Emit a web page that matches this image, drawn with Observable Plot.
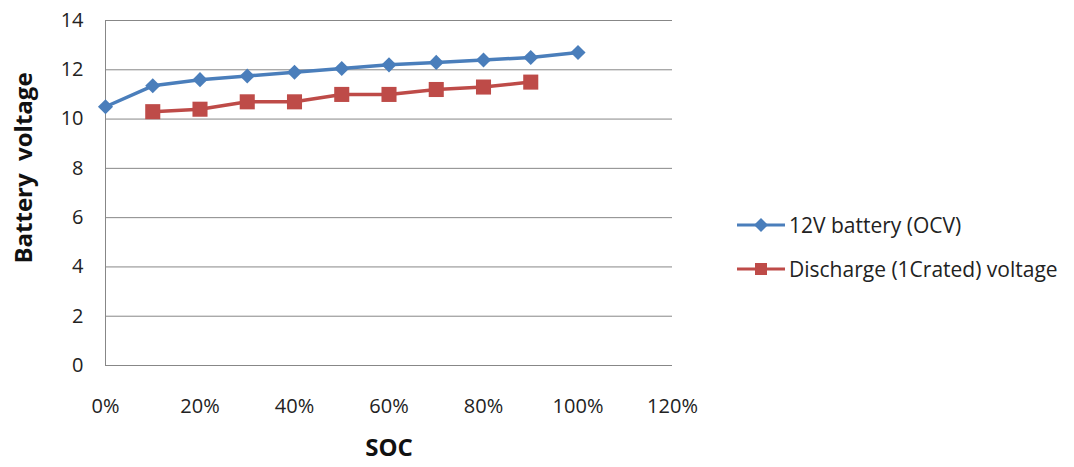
<!DOCTYPE html>
<html>
<head>
<meta charset="utf-8">
<script src="https://cdn.jsdelivr.net/npm/d3@7"></script>
<script src="https://cdn.jsdelivr.net/npm/@observablehq/plot@0.6"></script>
<style>
  body { margin: 0; background: #fff; }
  #chart { position: relative; width: 1074px; height: 467px; font-family: "Open Sans", sans-serif; }
  #legend { position: absolute; left: 736px; top: 210px; font-size: 21px; color: #222; }
  #legend .item { display: flex; align-items: center; height: 30px; margin-bottom: 14px; white-space: nowrap; }
  #legend svg { margin-right: 3px; }
</style>
</head>
<body>
<div id="chart"></div>
<script>
// State of charge (fraction) and measured voltages
const socOcv = [0, 0.1, 0.2, 0.3, 0.4, 0.5, 0.6, 0.7, 0.8, 0.9, 1.0];
const ocvVolts = [10.5, 11.35, 11.6, 11.75, 11.9, 12.05, 12.2, 12.3, 12.4, 12.5, 12.7];
const socDischarge = [0.1, 0.2, 0.3, 0.4, 0.5, 0.6, 0.7, 0.8, 0.9];
const dischargeVolts = [10.3, 10.4, 10.7, 10.7, 11.0, 11.0, 11.2, 11.3, 11.5];

const seriesNames = ["12V battery (OCV)", "Discharge (1Crated) voltage"];
const seriesColors = ["#4a7ebb", "#be4b48"];
const xTicks = [0, 0.2, 0.4, 0.6, 0.8, 1.0, 1.2];
const yTicks = [0, 2, 4, 6, 8, 10, 12, 14];
const yTitle = "Battery\u00a0 voltage";
const xTitle = "SOC";

const ocv = socOcv.map((s, i) => ({soc: s, v: ocvVolts[i]}));
const discharge = socDischarge.map((s, i) => ({soc: s, v: dischargeVolts[i]}));

const grid = "#878787";

const plot = Plot.plot({
  width: 1074,
  height: 467,
  marginLeft: 105,
  marginRight: 402,
  marginTop: 20,
  marginBottom: 102,
  style: {fontFamily: "'Open Sans', sans-serif", color: "#222", background: "#fff"},
  x: {domain: [0, 1.2]},
  y: {domain: [0, 14]},
  marks: [
    Plot.gridY(yTicks, {stroke: grid, strokeOpacity: 1, strokeWidth: 1}),
    Plot.ruleX([0], {stroke: grid, strokeWidth: 1}),
    Plot.axisY(yTicks, {tickSize: 0, tickPadding: 22, fontSize: 20, label: null}),
    Plot.axisX(xTicks, {tickSize: 0, tickPadding: 33, fontSize: 20, label: null, tickFormat: d3.format(".0%")}),
    Plot.text([yTitle], {frameAnchor: "left", dx: -81, dy: -25, rotate: -90, textAnchor: "middle", fontSize: 24, fontWeight: "bold", fill: "#111"}),
    Plot.text([xTitle], {frameAnchor: "bottom", dy: 90, fontSize: 24, fontWeight: "bold", fill: "#111"}),
    Plot.line(ocv, {x: "soc", y: "v", stroke: seriesColors[0], strokeWidth: 3.5}),
    Plot.dot(ocv, {x: "soc", y: "v", symbol: "diamond2", r: 6.8, fill: seriesColors[0], stroke: null}),
    Plot.line(discharge, {x: "soc", y: "v", stroke: seriesColors[1], strokeWidth: 3.5}),
    Plot.dot(discharge, {x: "soc", y: "v", symbol: "square", r: 8.5, fill: seriesColors[1], stroke: null})
  ]
});

const chart = document.getElementById("chart");
chart.appendChild(plot);

// Legend: line with marker, then the series name
const legend = document.createElement("div");
legend.id = "legend";
const markers = [
  `<polygon points="25,9 32,16 25,23 18,16" fill="${seriesColors[0]}"/>`,
  `<rect x="19" y="10" width="12" height="12" fill="${seriesColors[1]}"/>`
];
legend.innerHTML = seriesNames.map((name, i) => `
  <div class="item">
    <svg width="50" height="32" viewBox="0 0 50 32">
      <line x1="1" y1="16" x2="49" y2="16" stroke="${seriesColors[i]}" stroke-width="3"/>
      ${markers[i]}
    </svg>
    <span>${name}</span>
  </div>`).join("");
chart.appendChild(legend);
</script>
</body>
</html>
